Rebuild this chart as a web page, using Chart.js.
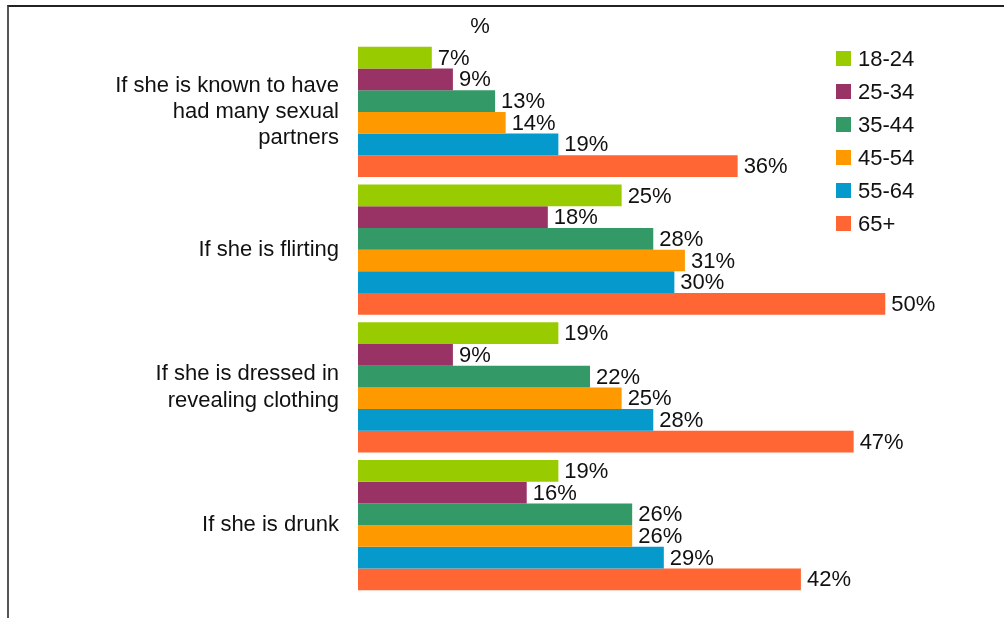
<!DOCTYPE html>
<html>
<head>
<meta charset="utf-8">
<script src="https://cdn.jsdelivr.net/npm/chart.js@4"></script>
<style>
  html, body { margin: 0; padding: 0; background: #fff; }
  #wrap { position: relative; width: 1004px; height: 618px; overflow: hidden; }
  #chart { display: block; }
  #frame { position: absolute; left: 7px; top: 5px; right: -10px; bottom: -10px;
           border-left: 2px solid #555; border-top: 2px solid #222; }
  #legend { position: absolute; left: 836px; top: 47px; font: 22px "Liberation Sans", Arial, sans-serif; color: #111; }
  .item { height: 33px; display: flex; align-items: flex-start; }
  .swatch { width: 15px; height: 15px; margin-top: 4px; margin-right: 7px; }
  .item span { line-height: 23px; }
</style>
</head>
<body>
<div id="wrap">
  <canvas id="chart" width="1004" height="618"></canvas>
  <div id="frame"></div>
  <div id="legend"></div>
</div>
<script>
// Statements and age-group percentages
const statements = [
    ['If she is known to have', 'had many sexual', 'partners'],
    'If she is flirting',
    ['If she is dressed in', 'revealing clothing'],
    'If she is drunk'
];
const ageGroups = ['18-24', '25-34', '35-44', '45-54', '55-64', '65+'];
const groupColors = ['#99cc00', '#993366', '#339966', '#ff9900', '#0599cc', '#ff6633'];

const age18to24 = [7, 25, 19, 19];
const age25to34 = [9, 18, 9, 16];
const age35to44 = [13, 28, 22, 26];
const age45to54 = [14, 31, 25, 26];
const age55to64 = [19, 30, 28, 29];
const age65plus = [36, 50, 47, 42];
const seriesValues = [age18to24, age25to34, age35to44, age45to54, age55to64, age65plus];

const FONT = '"Liberation Sans", Arial, sans-serif';
const FONT_SIZE = 22;

// value labels at the end of every bar, plus the "%" unit above the bars
const barLabels = {
    id: 'barLabels',
    afterDatasetsDraw(chart) {
        const ctx = chart.ctx;
        ctx.save();
        ctx.font = FONT_SIZE + 'px ' + FONT;
        ctx.fillStyle = '#111';
        ctx.textAlign = 'left';
        ctx.textBaseline = 'middle';
        chart.data.datasets.forEach((ds, i) => {
            chart.getDatasetMeta(i).data.forEach((bar, j) => {
                ctx.fillText(ds.data[j] + '%', bar.x + 6, bar.y + 1);
            });
        });
        ctx.textAlign = 'center';
        ctx.fillText('%', chart.chartArea.left + 122, 27);
        ctx.restore();
    }
};

const ctx = document.getElementById('chart').getContext('2d');
const chart = new Chart(ctx, {
    type: 'bar',
    data: {
        labels: statements,
        datasets: ageGroups.map((name, i) => ({
            label: name,
            data: seriesValues[i],
            backgroundColor: groupColors[i],
            borderWidth: 0,
            barPercentage: 1,
            categoryPercentage: 0.944
        }))
    },
    options: {
        indexAxis: 'y',
        responsive: false,
        animation: false,
        layout: { padding: { left: 0, right: 66, top: 43, bottom: 24 } },
        scales: {
            x: { display: false, min: 0, max: 55 },
            y: {
                grid: { display: false, drawTicks: false },
                border: { display: false },
                afterFit(scale) {
                    scale.width = 358;
                    scale.paddingTop = 0;
                    scale.paddingBottom = 0;
                },
                ticks: {
                    padding: 19,
                    color: '#111',
                    font: { family: FONT, size: FONT_SIZE, lineHeight: 1.2 }
                }
            }
        },
        plugins: {
            legend: { display: false },
            tooltip: { enabled: false }
        }
    },
    plugins: [barLabels]
});

// legend built from the series names and colours
const legend = document.getElementById('legend');
chart.data.datasets.forEach(ds => {
    const item = document.createElement('div');
    item.className = 'item';
    item.innerHTML = '<div class="swatch" style="background:' + ds.backgroundColor + '"></div><span>' + ds.label + '</span>';
    legend.appendChild(item);
});
</script>
</body>
</html>
